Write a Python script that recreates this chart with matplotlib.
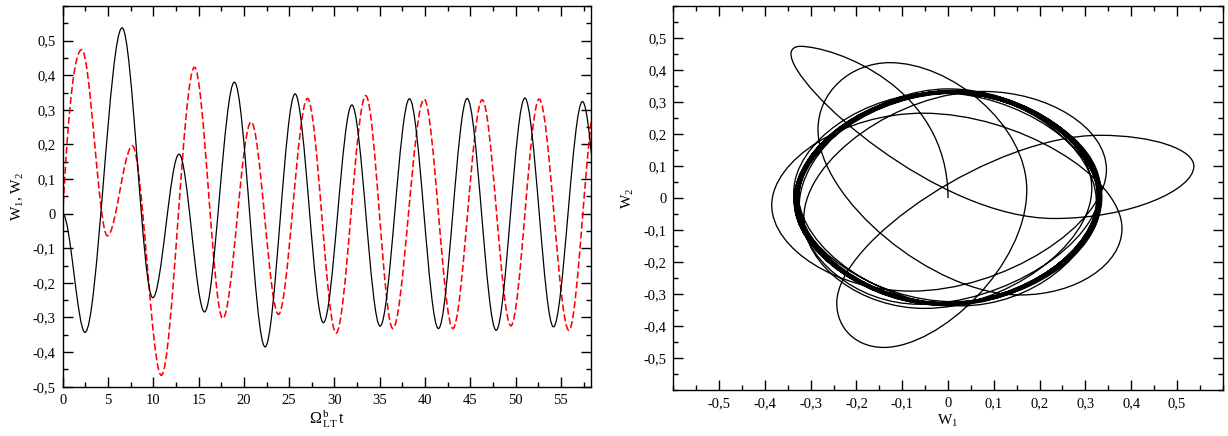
import numpy as np
import matplotlib

matplotlib.use("Agg")
import matplotlib.pyplot as plt
from matplotlib.path import Path
from matplotlib.patches import PathPatch
from matplotlib.ticker import FixedLocator, MultipleLocator, FuncFormatter

# turning points (time, value); after t~58 the
# values are estimated from the thick limit-cycle ring in the right panel
T1 = [0.0, 2.46, 6.55, 9.94, 12.84, 15.65, 18.95, 22.34, 25.65, 28.78,
      31.92, 35.04, 38.28, 41.48, 44.65, 47.85, 51.02, 54.18, 57.38,
      60.56, 63.74, 66.92, 70.10, 73.28, 76.46, 79.64, 82.82, 86.00,
      89.18, 92.36, 95.54, 98.72, 101.90, 105.08, 108.26, 111.44,
      114.62, 117.80, 120.98, 124.16, 127.34, 130.52, 133.70, 136.88,
      140.06, 143.24, 146.42, 149.60, 152.78, 155.96, 159.14, 162.32,
      165.50, 168.68, 171.86, 175.04, 178.22, 181.40]
W1 = [0.0, -0.343, 0.537, -0.243, 0.172, -0.284, 0.380, -0.385, 0.346,
      -0.315, 0.314, -0.325, 0.332, -0.332, 0.333, -0.337, 0.334, -0.327,
      0.324, -0.334, 0.330, -0.328, 0.335, -0.331, 0.327, -0.336, 0.333,
      -0.326, 0.331, -0.333, 0.328, -0.330, 0.334, -0.328, 0.329, -0.334,
      0.332, -0.329, 0.330, -0.332, 0.336, -0.327, 0.329, -0.335, 0.331,
      -0.330, 0.326, -0.333, 0.334, -0.328, 0.332, -0.331, 0.328, -0.336,
      0.333, -0.329, 0.331, -0.332]

T2 = [0.0, 2.10, 4.93, 7.69, 10.88, 14.54, 17.67, 20.80, 23.81, 27.02,
      30.18, 33.46, 36.44, 39.90, 43.07, 46.31, 49.48, 52.60, 55.88,
      58.95, 62.13, 65.31, 68.49, 71.67, 74.85, 78.03, 81.21, 84.39,
      87.57, 90.75, 93.93, 97.11, 100.29, 103.47, 106.65, 109.83,
      113.01, 116.19, 119.37, 122.55, 125.73, 128.91, 132.09, 135.27,
      138.45, 141.63, 144.81, 147.99, 151.17, 154.35, 157.53, 160.71,
      163.89, 167.07, 170.25, 173.43, 176.61, 179.79, 182.97]
W2 = [0.0, 0.474, -0.064, 0.196, -0.467, 0.423, -0.303, 0.265, -0.291,
      0.333, -0.345, 0.341, -0.332, 0.331, -0.332, 0.329, -0.324, 0.331,
      -0.337, 0.333, -0.330, 0.335, -0.328, 0.331, -0.334, 0.329, -0.331,
      0.336, -0.327, 0.330, -0.335, 0.332, -0.329, 0.328, -0.333, 0.334,
      -0.330, 0.331, -0.332, 0.330, -0.336, 0.327, -0.331, 0.334, -0.328,
      0.332, -0.333, 0.329, -0.330, 0.335, -0.329, 0.331, -0.334, 0.328,
      -0.332, 0.333, -0.330, 0.330, -0.331]
W1_START_SLOPE = 0.0   # W1 leaves zero flat
W2_START_SLOPE = 0.5   # W2 leaves zero steeply

TICKS = np.round(np.arange(-0.5, 0.51, 0.1), 2)

plt.rcParams.update({
    "font.family": "Liberation Serif",
    "mathtext.fontset": "custom",
    "mathtext.rm": "Liberation Serif",
    "mathtext.it": "Liberation Serif",
    "lines.scale_dashes": False,
})


def pchip_slopes(t, y, start):
    # Fritsch-Carlson slopes: zero at turning points, given slope at t=0
    t, y = np.asarray(t), np.asarray(y)
    h = np.diff(t)
    m = np.diff(y) / h
    d = np.zeros(len(t))
    for k in range(1, len(t) - 1):
        if m[k - 1] * m[k] > 0:
            w1 = 2 * h[k] + h[k - 1]
            w2 = h[k] + 2 * h[k - 1]
            d[k] = (w1 + w2) / (w1 / m[k - 1] + w2 / m[k])
    d[0] = start
    return d


def hermite(tk, yk, dk, tq):
    tk, yk, dk = map(np.asarray, (tk, yk, dk))
    i = np.clip(np.searchsorted(tk, tq, side="right") - 1, 0, len(tk) - 2)
    h = tk[i + 1] - tk[i]
    s = (tq - tk[i]) / h
    y0, y1, d0, d1 = yk[i], yk[i + 1], dk[i], dk[i + 1]
    val = ((2 * s**3 - 3 * s**2 + 1) * y0 + (s**3 - 2 * s**2 + s) * h * d0
           + (-2 * s**3 + 3 * s**2) * y1 + (s**3 - s**2) * h * d1)
    der = ((6 * s**2 - 6 * s) * y0 + (3 * s**2 - 4 * s + 1) * h * d0
           + (-6 * s**2 + 6 * s) * y1 + (3 * s**2 - 2 * s) * h * d1) / h
    return val, der


def bezier(par, x, dx, y, dy):
    # piecewise cubic -> one smooth matplotlib path (CURVE4 segments)
    verts = [(x[0], y[0])]
    codes = [Path.MOVETO]
    for i in range(len(par) - 1):
        h = (par[i + 1] - par[i]) / 3.0
        verts += [(x[i] + h * dx[i], y[i] + h * dy[i]),
                  (x[i + 1] - h * dx[i + 1], y[i + 1] - h * dy[i + 1]),
                  (x[i + 1], y[i + 1])]
        codes += [Path.CURVE4] * 3
    return Path(verts, codes)


def comma(v, pos):
    v = round(v, 3)
    if abs(v) < 1e-9:
        return "0"
    return f"{v:g}".replace(".", ",")


def style(ax):
    ax.tick_params(which="both", direction="in", top=True, right=True,
                   width=1.0, labelsize=10.5, pad=5, colors="black")
    ax.tick_params(which="major", length=7.2)
    ax.tick_params(which="minor", length=3.6)
    for s in ax.spines.values():
        s.set_linewidth(1.0)
    ax.xaxis.set_major_formatter(FuncFormatter(comma))
    ax.yaxis.set_major_formatter(FuncFormatter(comma))


fig = plt.figure(figsize=(12.28, 4.36), dpi=100)
ax1 = fig.add_axes([0.0511, 0.1131, 0.4300, 0.8731])
ax2 = fig.add_axes([0.5483, 0.1055, 0.4474, 0.8807])

d1 = pchip_slopes(T1, W1, W1_START_SLOPE)
d2 = pchip_slopes(T2, W2, W2_START_SLOPE)

# --- left: time series ------------------------------------------------------
ax1.add_patch(PathPatch(bezier(T1, T1, np.ones(len(T1)), W1, d1), fill=False,
                        edgecolor="black", lw=0.9, zorder=3))
ax1.add_patch(PathPatch(bezier(T2, T2, np.ones(len(T2)), W2, d2), fill=False,
                        edgecolor="#ff0000", lw=1.15, linestyle=(0, (5, 2.2)),
                        zorder=2))
ax1.set_xlim(0, 58.3)
ax1.set_ylim(-0.5, 0.6)
ax1.xaxis.set_major_locator(MultipleLocator(5))
ax1.xaxis.set_minor_locator(MultipleLocator(2.5))
ax1.yaxis.set_major_locator(FixedLocator(TICKS))
ax1.yaxis.set_minor_locator(MultipleLocator(0.05))
style(ax1)
ax1.set_xlabel(r"$\mathrm{\Omega^{\,b}_{\,LT}\,t}$", fontsize=11.5, labelpad=1)
ax1.set_ylabel(r"W$_1$, W$_2$", fontsize=11, labelpad=5)

# --- right: phase portrait W2(W1) -------------------------------------------
t_end = min(T1[-1], T2[-1])
knots = np.union1d(T1, T2)
knots = knots[knots <= t_end]
x, dx = hermite(T1, W1, d1, knots)
y, dy = hermite(T2, W2, d2, knots)
ax2.add_patch(PathPatch(bezier(knots, x, dx, y, dy), fill=False,
                        edgecolor="black", lw=0.95))
ax2.set_xlim(-0.6, 0.6)
ax2.set_ylim(-0.6, 0.6)
for axis in (ax2.xaxis, ax2.yaxis):
    axis.set_major_locator(FixedLocator(TICKS))
    axis.set_minor_locator(MultipleLocator(0.05))
style(ax2)
ax2.set_xlabel(r"W$_1$", fontsize=11, labelpad=2)
ax2.set_ylabel(r"W$_2$", fontsize=11, labelpad=5)

fig.savefig("out.png", dpi=100, facecolor="white")
